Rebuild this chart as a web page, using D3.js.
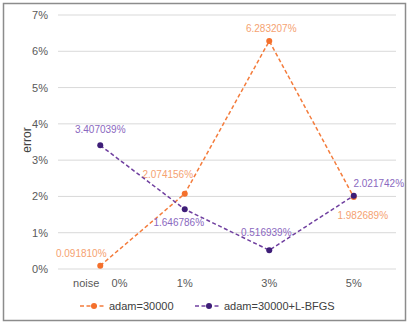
<!DOCTYPE html>
<html><head><meta charset="utf-8">
<script src="https://cdn.jsdelivr.net/npm/d3@7"></script>
<style>body{margin:0;background:#fff;}svg{display:block;font-family:"Liberation Sans",Arial,sans-serif;}</style>
</head><body>
<svg id="c" width="409" height="327"></svg>
<script>
const categories = ["noise    0%", "1%", "3%", "5%"];
const seriesNames = ["adam=30000", "adam=30000+L-BFGS"];
const adam = [0.0918100, 2.074156, 6.283207, 1.982689];
const adamLbfgs = [3.407039, 1.646786, 0.516939, 2.021742];
const yTicks = [0, 1, 2, 3, 4, 5, 6, 7];

const svg = d3.select("#c");
svg.append("rect").attr("x",3.5).attr("y",3.5).attr("width",402).attr("height",317)
  .attr("fill","#fff").attr("stroke","#8c8c8c").attr("stroke-width",1.5);

const x = d3.scaleBand().domain(categories).range([58,396]);
const y = d3.scaleLinear().domain([0,7]).range([269,15]);
const cx = c => x(c) + x.bandwidth()/2;

// gridlines
svg.append("g").selectAll("line").data(yTicks).join("line")
  .attr("x1",58).attr("x2",396).attr("y1",d=>y(d)).attr("y2",d=>y(d))
  .attr("stroke","#d9d9d9").attr("stroke-width",1);

// y axis labels
const yAxis = d3.axisLeft(y).tickValues(yTicks).tickFormat(d=>d+"%").tickSize(0).tickPadding(0);
const ya = svg.append("g").attr("transform","translate(48,0)").call(yAxis);
ya.select(".domain").remove();
ya.selectAll("text").attr("fill","#595959").attr("font-size",11).attr("font-family","Liberation Sans, Arial, sans-serif");

// x axis labels
const xAxis = d3.axisBottom(x).tickSize(0).tickPadding(0);
const xa = svg.append("g").attr("transform","translate(0,279)").call(xAxis);
xa.select(".domain").remove();
xa.selectAll("text").attr("fill","#595959").attr("font-size",11).style("white-space","pre")
  .attr("font-family","Liberation Sans, Arial, sans-serif");

// y title
svg.append("text").attr("transform","translate(31,140) rotate(-90)").attr("text-anchor","middle")
  .attr("font-size",12).attr("fill","#404040").text("error");

const series = [
  {name: seriesNames[0], values: adam, line:"#f47c3c", dot:"#f4702c", label:"#f5a271",
   off:[[-19,-9],[-17,-16],[2,-9],[9,22]]},
  {name: seriesNames[1], values: adamLbfgs, line:"#7040a0", dot:"#3e1e78", label:"#8a68c0",
   off:[[0,-12],[-6,17],[-3,-14],[25,-9]]}
];

const line = d3.line().x((d,i)=>cx(categories[i])).y(d=>y(d));
series.forEach(s=>{
  svg.append("path").attr("d",line(s.values)).attr("fill","none")
    .attr("stroke",s.line).attr("stroke-width",1.5).attr("stroke-dasharray","4,2.5");
  svg.append("g").selectAll("circle").data(s.values).join("circle")
    .attr("cx",(d,i)=>cx(categories[i])).attr("cy",d=>y(d)).attr("r",3).attr("fill",s.dot);
  svg.append("g").selectAll("text").data(s.values).join("text")
    .attr("x",(d,i)=>cx(categories[i])+s.off[i][0]).attr("y",(d,i)=>y(d)+s.off[i][1])
    .attr("text-anchor","middle").attr("font-size",10).attr("fill",s.label)
    .text(d=>d.toFixed(6)+"%");
});

// legend
const leg = [{x:80, s:series[0]},{x:195, s:series[1]}];
leg.forEach(l=>{
  const g = svg.append("g").attr("transform",`translate(${l.x},306)`);
  g.append("line").attr("x1",0).attr("x2",26).attr("y1",0).attr("y2",0)
    .attr("stroke",l.s.line).attr("stroke-width",1.5).attr("stroke-dasharray","4,2.5");
  g.append("circle").attr("cx",14).attr("cy",0).attr("r",3).attr("fill",l.s.dot);
  g.append("text").attr("x",29).attr("y",4).attr("font-size",11).attr("fill","#404040").text(l.s.name);
});
</script>
</body></html>
